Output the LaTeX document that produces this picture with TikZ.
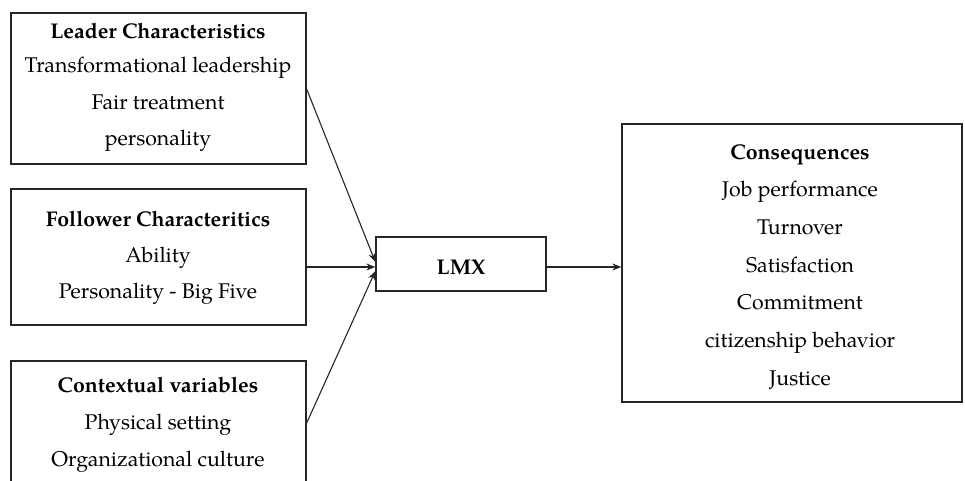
\documentclass[tikz,border=0pt]{standalone}
\usepackage{fontspec}
\setmainfont{TeX Gyre Pagella}
\usetikzlibrary{arrows.meta}
\begin{document}
\begin{tikzpicture}[x=1pt,y=1pt,
  box/.style={draw=black!85, line width=1.3pt, inner sep=0pt},
  txt/.style={anchor=base, inner sep=0pt, font=\fontsize{21.3}{25}\selectfont},
  hd/.style={txt, font=\fontsize{21.3}{25}\selectfont\bfseries},
  conn/.style={draw=black!85, line width=1.1pt, -{Stealth[length=9pt,width=7pt]}}]
\useasboundingbox (0,0) rectangle (965,481);
\clip (0,0) rectangle (965,481);
% boxes (y = 481 - pixel y)
\node[box, minimum width=295, minimum height=151] (lead) at (158.5,392.5) {};
\node[box, minimum width=295, minimum height=136] (foll) at (158.5,224) {};
\node[box, minimum width=295, minimum height=160] (ctx) at (158.5,40) {};
\node[box, minimum width=170, minimum height=54] (lmx) at (461,217) {};
\node[box, minimum width=340, minimum height=278] (cons) at (792,218) {};
% texts
\node[hd] (l0) at (158,442) {Leader Characteristics};
\node[txt] (l1) at (158,408) {Transformational leadership};
\node[txt] (l2) at (158,371) {Fair treatment};
\node[txt] (l3) at (158,335) {personality};
\node[hd] (f0) at (158,254) {Follower Characteritics};
\node[txt] (f1) at (158,218) {Ability};
\node[txt] (f2) at (158,182) {Personality - Big Five};
\node[hd] (c0) at (158,88) {Contextual variables};
\node[txt] (c1) at (158,51) {Physical setting};
\node[txt] (c2) at (158,14) {Organizational culture};
\node[hd] (m0) at (461,206) {LMX};
\node[hd] (q0) at (800,321) {Consequences};
\node[txt] (q1) at (800,284) {Job performance};
\node[txt] (q2) at (800,246) {Turnover};
\node[txt] (q3) at (800,208) {Satisfaction};
\node[txt] (q4) at (800,171) {Commitment};
\node[txt] (q5) at (800,133) {citizenship behavior};
\node[txt] (q6) at (800,95) {Justice};
% connectors
\draw[conn] (lead.east |- 0,392) -- ([yshift=2]lmx.west);
\draw[conn] (foll.east |- 0,214) -- ([yshift=-3]lmx.west);
\draw[conn] (ctx.east |- 0,58) -- ([yshift=-7]lmx.west);
\draw[conn] ([yshift=-3]lmx.east) -- (cons.west |- 0,214);
\end{tikzpicture}
\end{document}
